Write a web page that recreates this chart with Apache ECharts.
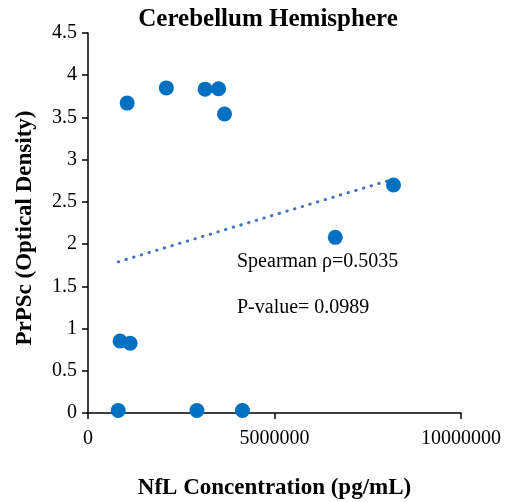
<!DOCTYPE html>
<html>
<head>
<meta charset="utf-8">
<script src="https://cdn.jsdelivr.net/npm/echarts@6/dist/echarts.min.js"></script>
<style>html,body{margin:0;padding:0;background:#fff;}#c{width:516px;height:502px;}</style>
</head>
<body>
<div id="c"></div>
<script>
const nflX = [1050000, 2100000, 3140000, 3500000, 3660000, 8190000, 6630000, 860000, 1130000, 810000, 2920000, 4140000];
const prpscY = [3.67, 3.85, 3.835, 3.84, 3.54, 2.70, 2.08, 0.853, 0.826, 0.03, 0.03, 0.03];
const trendX = [810000, 8190000];
const trendY = [1.79, 2.77];
const xTicks = [0, 5000000, 10000000];
const yTicks = [0, 0.5, 1, 1.5, 2, 2.5, 3, 3.5, 4, 4.5];
const titleText = 'Cerebellum Hemisphere';
const xName = 'NfL Concentration (pg/mL)';
const yName = 'PrPSc (Optical Density)';
const annot1 = 'Spearman \u03c1=0.5035';
const annot2 = 'P-value= 0.0989';

const font = "'Liberation Serif','Times New Roman',serif";
const chart = echarts.init(document.getElementById('c'), null, {renderer: 'canvas'});
chart.setOption({
  backgroundColor: '#fff',
  animation: false,
  title: {
    text: titleText, left: 263, top: 2, textAlign: 'center',
    textStyle: {fontFamily: font, fontWeight: 'bold', fontSize: 25, color: '#000'}
  },
  grid: {left: 88, top: 33, width: 373, height: 380, containLabel: false, outerBoundsMode: 'none'},
  xAxis: {
    type: 'value', min: xTicks[0], max: xTicks[xTicks.length - 1], interval: xTicks[1] - xTicks[0],
    name: xName, nameLocation: 'middle', nameGap: 64,
    nameTextStyle: {fontFamily: font, fontWeight: 'bold', fontSize: 23, color: '#000'},
    axisLine: {show: true, lineStyle: {color: '#000', width: 1.5}},
    axisTick: {show: true, inside: false, length: 6, lineStyle: {color: '#000', width: 1.5}},
    axisLabel: {fontFamily: font, fontSize: 20, color: '#000', margin: 16, formatter: v => String(v)},
    splitLine: {show: false}
  },
  yAxis: {
    type: 'value', min: yTicks[0], max: yTicks[yTicks.length - 1], interval: yTicks[1] - yTicks[0],
    name: yName, nameLocation: 'middle', nameGap: 51,
    nameTextStyle: {fontFamily: font, fontWeight: 'bold', fontSize: 23, color: '#000', padding: [0, 10, 0, 0]},
    axisLine: {show: true, lineStyle: {color: '#000', width: 1.5}},
    axisTick: {show: true, inside: false, length: 6, lineStyle: {color: '#000', width: 1.5}},
    axisLabel: {fontFamily: font, fontSize: 20, color: '#000', margin: 11},
    splitLine: {show: false}
  },
  series: [
    {
      type: 'line', z: 1, symbol: 'none', silent: true,
      data: trendX.map((x, i) => [x, trendY[i]]),
      lineStyle: {color: '#4472C4', width: 3, type: [0.5, 7.5], cap: 'round'}
    },
    {
      type: 'scatter', z: 2, symbolSize: 15,
      data: nflX.map((x, i) => [x, prpscY[i]]),
      itemStyle: {color: '#0070C0', opacity: 1}
    }
  ],
  graphic: [
    {type: 'text', left: 237, top: 252, style: {text: annot1, font: '20px ' + font, fill: '#000'}},
    {type: 'text', left: 237, top: 298, style: {text: annot2, font: '20px ' + font, fill: '#000'}}
  ]
});
</script>
</body>
</html>
